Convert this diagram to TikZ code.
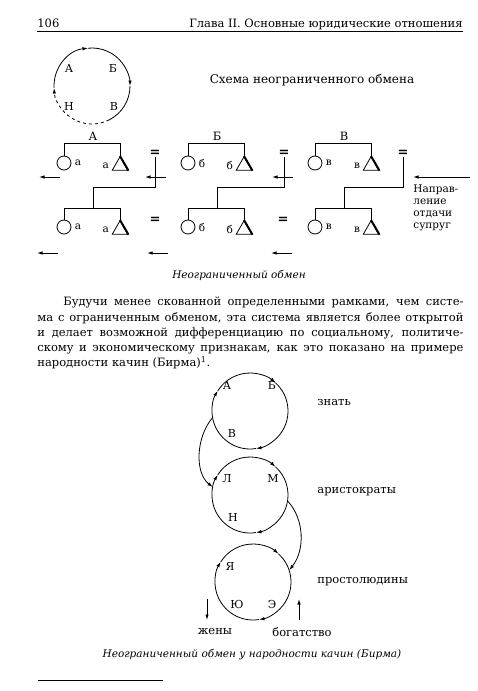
\documentclass[tikz,border=0pt]{standalone}
\usepackage{fontspec}
\setmainfont{DejaVu Serif}
\usetikzlibrary{arrows.meta,positioning,shapes.geometric,calc}
\tikzset{
  >={Latex[length=5.5pt,width=3.4pt]},
  give/.style={->},
  fem/.style={circle,draw,minimum size=14pt,inner sep=0pt},
  male/.style={regular polygon,regular polygon sides=3,draw,minimum size=18pt,
    inner sep=0pt,anchor=corner 1},
  kin/.style={font=\fontsize{10.5}{12}\selectfont,inner sep=0pt},
  wed/.style={font=\fontsize{13}{13}\selectfont\bfseries,inner sep=0.5pt},
  clan/.style={circle,minimum size=76pt,inner sep=0pt,outer sep=0pt},
  letter/.style={font=\fontsize{11}{12}\selectfont,inner sep=0pt},
  stratum/.style={anchor=west,font=\fontsize{11.5}{13}\selectfont,inner sep=0pt},
  caption/.style={font=\fontsize{10.5}{12}\selectfont\itshape,inner sep=0pt},
  body/.style={font=\fontsize{11.5}{15.25}\selectfont,inner sep=0pt},
}

\begin{document}
\begin{tikzpicture}[x=1pt,y=-1pt,line width=0.8pt]
  \useasboundingbox (0,0) rectangle (477,691);
  % running head
  \node[body,anchor=base west] (page) at (37,27) {106};
  \node[body,anchor=base east] (head) at (463,27) {Глава II. Основные юридические отношения};
  \draw[line width=0.9pt] (37,31) -- (463,31);

  % ring of exchange
  \coordinate (ring) at (92,86);
  \draw[dashed,->] (ring) ++(63:38) arc (63:177:38);
  \draw[->] (ring) ++(177:38) arc (177:264:38);
  \draw[->] (ring) ++(264:38) arc (264:360:38);
  \draw (ring) ++(0:38) arc (0:63:38);
  \foreach \t/\dx/\dy in {А/-23/-18, Б/21/-18, Н/-23/20, В/22/20}
    \node[letter] at ([shift={(\dx,\dy)}]ring) {\t};
  \node[body,font=\fontsize{12}{14}\selectfont] (title) at (312,80) {Схема неограниченного обмена};

  % lineages
  \foreach \L/\l/\x/\e [count=\i] in {А/а/64/155, Б/б/188/284, В/в/315/403}{
    % upper generation
    \node[fem] (f\i) at (\x,163) {};
    \node[male] (m\i) at (\x+56,156) {};
    \draw[line width=2pt] (m\i.corner 1) -- (m\i.corner 3);
    \draw (f\i.north) -- ++(0,-12) -| (m\i.corner 1);
    \node[body] (n\i) at (\x+29,136) {\L};
    \node[kin,right=3pt of f\i] {\l};
    \node[kin,left=5pt of m\i.west] {\l};
    % lower generation
    \node[fem] (g\i) at (\x,227) {};
    \node[male] (h\i) at (\x+56,220) {};
    \draw[line width=2pt] (h\i.corner 1) -- (h\i.corner 3);
    \draw (g\i.north) -- ++(0,-11) -| (h\i.corner 1);
    \node[kin,right=3pt of g\i] {\l};
    \node[kin,left=5pt of h\i.west] {\l};
    % marriage and descent
    \node[wed] (e\i) at (\e,153) {=};
    \coordinate (d\i) at (\x+29,209);
    \draw (e\i.south) |- ($(d\i)+(0,-22)$) -- (d\i);
  }
  \foreach \e [count=\i] in {155,283}
    \node[wed] (q\i) at (\e,220) {=};

  % direction of giving wives
  \foreach \a [count=\k] in {60,166,293}{
    \coordinate (u\k) at (\a,177);
    \draw[give] (u\k) -- ++(-21,0);
  }
  \foreach \a [count=\k] in {58,168,292}{
    \coordinate (v\k) at (\a,253);
    \draw[give] (v\k) -- ++(-21,0);
  }
  \coordinate (long) at (470,177);
  \draw[give] (long) -- ++(-57,0);
  \node[anchor=north west,align=left,inner sep=0pt,font=\fontsize{10.5}{12.3}\selectfont]
    (note) at (413,184) {Направ-\\ление\\отдачи\\супруг};
  \node[caption] (cap1) at (239,275) {Неограниченный обмен};

  % text
  \node[body,anchor=north west,text width=426pt,align=justify] (para) at (37,297)
    {\hspace*{26pt}Будучи менее скованной определенными рамками, чем систе-\linebreak
     ма с ограниченным обменом, эта система является более открытой\linebreak
     и делает возможной дифференциацию по социальному, политиче-\linebreak
     скому и экономическому признакам, как это показано на примере\linebreak
     народности качин (Бирма)\textsuperscript{1}.};

  % three strata
  \node[clan] (nobles) at (250,411) {};
  \node[clan] (aristo) at (250,495) {};
  \node[clan] (commons) at (253,582) {};
  \foreach \c in {nobles,aristo,commons}{
    \draw[->] (\c.-81) arc (81:212:38);
    \draw[->] (\c.148) arc (212:312:38);
    \draw[->] (\c.48) arc (312:441:38);
  }
  \foreach \c/\t/\dx/\dy in {nobles/А/-23/-26, nobles/Б/22/-26, nobles/В/-18/22,
      aristo/Л/-23/-16, aristo/М/23/-17, aristo/Н/-17/22,
      commons/Я/-23/-16, commons/Ю/-16/22, commons/Э/19/22}
    \node[letter] at ([shift={(\dx,\dy)}]\c) {\t};
  \draw[->] (nobles.190) .. controls +(-17,20) and +(-18,-14) .. (aristo.168);
  \draw[->] (aristo.-9) .. controls +(17,18) and +(16,-20) .. (commons.18);
  \node[stratum] (zn) at (317,403) {знать};
  \node[stratum] (ar) at (317,492) {аристократы};
  \node[stratum] (pr) at (317,582) {простолюдины};
  \node[body] (wives) at (215,632) {жены};
  \node[body] (wealth) at (302,632) {богатство};
  \coordinate (w1) at (207,599);
  \draw[->] (w1) -- ++(0,21);
  \coordinate (w2) at (299,620);
  \draw[->] (w2) -- ++(0,-21);
  \node[caption] (cap2) at (252,655) {Неограниченный обмен у народности качин (Бирма)};
  \draw (38,680) -- (163,680);
\end{tikzpicture}
\end{document}
